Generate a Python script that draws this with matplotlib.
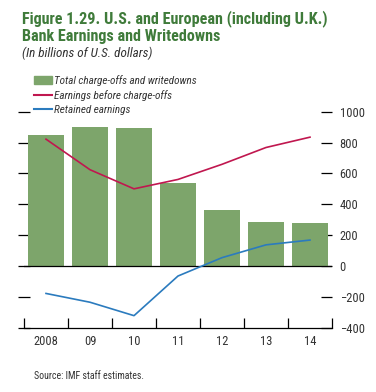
import numpy as np
import matplotlib
matplotlib.use("Agg")
import matplotlib.pyplot as plt
from matplotlib.patches import Patch
from matplotlib.lines import Line2D
import matplotlib.markers as mk

# data (billions of U.S. dollars)
years = ["2008", "09", "10", "11", "12", "13", "14"]
chargeoffs = [848, 900, 893, 535, 365, 287, 280]
earnings = [822, 624, 500, 561, 659, 768, 835]
retained = [-178, -235, -322, -65, 54, 137, 168]
yticks = [1000, 800, 600, 400, 200, 0, -200, -400]

fnt = ["Liberation Sans Narrow", "Roboto Condensed", "Liberation Sans"]
green = "#7da56b"
red = "#c0174f"
blue = "#2b7bbe"
txt = "#333333"

fig = plt.figure(figsize=(3.76, 3.92), dpi=100)
ax = fig.add_axes([24 / 376, 1 - 327.7 / 392, 308 / 376, 216 / 392])

x = np.arange(len(years))
ax.bar(x, chargeoffs, width=0.83, color=green, zorder=1)
ax.plot(x, earnings, color=red, lw=1.2, zorder=3)
ax.plot(x, retained, color=blue, lw=1.2, zorder=3)
ax.axhline(0, color="black", lw=0.9, zorder=2)

ax.set_xlim(-0.5, len(years) - 0.5)
ax.set_ylim(-400, 1000)
ax.set_axisbelow(True)

for s in ["top", "left", "right"]:
    ax.spines[s].set_visible(False)
ax.spines["bottom"].set_linewidth(0.9)

ax.set_xticks(x)
ax.set_xticklabels(years, fontfamily=fnt, fontsize=9, color=txt)
ax.set_xticks(np.arange(len(years) + 1) - 0.5, minor=True)
ax.tick_params(axis="x", which="major", length=0, pad=5)
ax.tick_params(axis="x", which="minor", direction="in", length=7, width=0.9)

ax.set_yticks(yticks)
ax.tick_params(axis="y", direction="inout", length=8, width=0.9,
               left=True, right=True, labelleft=False, labelright=True, pad=1.5)
for lab in ax.get_yticklabels():
    lab.set_fontfamily(fnt)
    lab.set_fontsize(9)
    lab.set_color(txt)
# right ticks point inward only
for t in ax.yaxis.get_major_ticks():
    t.tick2line.set_marker(mk.TICKLEFT)
    t.tick2line.set_markersize(8)


def fit(t, width_px):
    # shrink/grow a text so it spans the width seen in the reference
    r = fig.canvas.get_renderer()
    w = t.get_window_extent(r).width
    t.set_fontsize(t.get_fontsize() * width_px / w)


t1 = fig.text(22 / 376, 1 - 19 / 392, "Figure 1.29. U.S. and European (including U.K.)",
              fontfamily=fnt, fontweight="bold", fontsize=11, color="#3f7b3a", va="center")
t2 = fig.text(22 / 376, 1 - 36 / 392, "Bank Earnings and Writedowns",
              fontfamily=fnt, fontweight="bold", fontsize=11, color="#3f7b3a", va="center")
t3 = fig.text(22 / 376, 1 - 53 / 392, "(In billions of U.S. dollars)",
              fontfamily=fnt, fontstyle="italic", fontsize=8.5, color=txt, va="center")
fit(t1, 305)
t2.set_fontsize(t1.get_fontsize())
fit(t3, 130)

handles = [Patch(color=green), Line2D([], [], color=red, lw=1.5),
           Line2D([], [], color=blue, lw=1.5)]
labels = ["Total charge-offs and writedowns", "Earnings before charge-offs",
          "Retained earnings"]
probe = fig.text(0, 0, labels[0], fontfamily=fnt, fontstyle="italic", fontsize=8.5)
fit(probe, 142)
lsize = probe.get_fontsize()
probe.remove()

leg = fig.legend(handles, labels, loc="upper left",
                 bbox_to_anchor=(34 / 376, 1 - 75 / 392), frameon=False,
                 prop={"family": fnt, "style": "italic", "size": lsize},
                 handlelength=1.6, handleheight=0.6, handletextpad=0.2,
                 labelspacing=0.35, borderaxespad=0, borderpad=0)
for t in leg.get_texts():
    t.set_color(txt)

src = fig.text(34 / 376, 1 - 376 / 392, "Source: IMF staff estimates.",
               fontfamily=fnt, fontsize=7.5, color=txt, va="center")
fit(src, 110)

fig.savefig("out.png", dpi=100)
